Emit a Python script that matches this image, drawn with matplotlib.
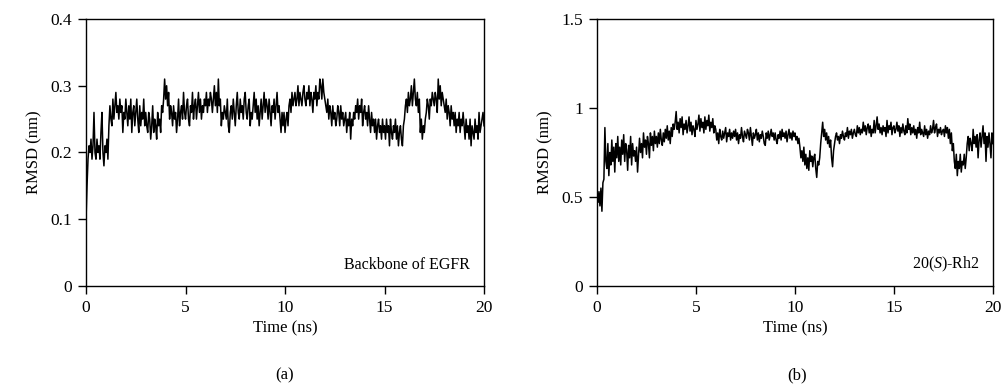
import numpy as np
import matplotlib
matplotlib.use("Agg")
import matplotlib.pyplot as plt

plt.rcParams["font.family"] = ["Liberation Serif", "DejaVu Serif"]
plt.rcParams["mathtext.fontset"] = "custom"
plt.rcParams["mathtext.rm"] = "Liberation Serif"
plt.rcParams["mathtext.it"] = "Liberation Serif:italic"

# time axis, 0.05 ns steps (one row = 1 ns)
time_ns = np.round(np.arange(0, 401) * 0.05, 2)

# RMSD of EGFR backbone (nm)
rmsd_egfr = [
    0.10, 0.15, 0.19, 0.21, 0.20, 0.22, 0.19, 0.21, 0.26, 0.20, 0.19, 0.22, 0.20, 0.21, 0.19, 0.23, 0.26, 0.20, 0.18, 0.21,
    0.20, 0.22, 0.19, 0.24, 0.27, 0.25, 0.24, 0.28, 0.25, 0.27, 0.29, 0.26, 0.27, 0.25, 0.28, 0.26, 0.27, 0.23, 0.26, 0.25,
    0.28, 0.26, 0.24, 0.27, 0.25, 0.28, 0.23, 0.26, 0.27, 0.24, 0.26, 0.28, 0.25, 0.23, 0.27, 0.24, 0.26, 0.25, 0.28, 0.24,
    0.26, 0.24, 0.23, 0.26, 0.25, 0.22, 0.24, 0.27, 0.23, 0.25, 0.24, 0.22, 0.26, 0.24, 0.25, 0.23, 0.27, 0.26, 0.28, 0.31,
    0.28, 0.30, 0.27, 0.29, 0.25, 0.27, 0.26, 0.24, 0.27, 0.25, 0.26, 0.23, 0.25, 0.28, 0.24, 0.26, 0.27, 0.25, 0.29, 0.26,
    0.25, 0.27, 0.28, 0.25, 0.24, 0.27, 0.26, 0.29, 0.25, 0.27, 0.28, 0.25, 0.27, 0.29, 0.26, 0.28, 0.25, 0.27, 0.26, 0.28,
    0.27, 0.29, 0.26, 0.28, 0.27, 0.29, 0.28, 0.26, 0.28, 0.30, 0.27, 0.29, 0.26, 0.31, 0.27, 0.28, 0.24, 0.26, 0.25, 0.27,
    0.26, 0.25, 0.28, 0.24, 0.23, 0.26, 0.27, 0.25, 0.28, 0.26, 0.24, 0.27, 0.29, 0.26, 0.25, 0.28, 0.26, 0.27, 0.25, 0.28,
    0.29, 0.26, 0.25, 0.27, 0.28, 0.24, 0.26, 0.25, 0.27, 0.29, 0.26, 0.28, 0.25, 0.27, 0.24, 0.26, 0.28, 0.25, 0.27, 0.29,
    0.26, 0.28, 0.27, 0.25, 0.28, 0.26, 0.24, 0.27, 0.26, 0.28, 0.25, 0.27, 0.29, 0.26, 0.27, 0.25, 0.23, 0.26, 0.24, 0.26,
    0.23, 0.25, 0.26, 0.24, 0.27, 0.28, 0.26, 0.29, 0.27, 0.28, 0.29, 0.27, 0.28, 0.30, 0.27, 0.29, 0.28, 0.27, 0.29, 0.30,
    0.28, 0.27, 0.29, 0.28, 0.30, 0.27, 0.29, 0.28, 0.26, 0.29, 0.28, 0.30, 0.27, 0.29, 0.28, 0.31, 0.30, 0.28, 0.31, 0.29,
    0.28, 0.27, 0.26, 0.28, 0.25, 0.27, 0.26, 0.24, 0.27, 0.25, 0.26, 0.24, 0.25, 0.27, 0.26, 0.24, 0.27, 0.25, 0.26, 0.24,
    0.25, 0.26, 0.23, 0.25, 0.24, 0.26, 0.22, 0.25, 0.24, 0.26, 0.25, 0.27, 0.26, 0.28, 0.25, 0.27, 0.26, 0.28, 0.24, 0.26,
    0.27, 0.25, 0.26, 0.24, 0.27, 0.25, 0.23, 0.26, 0.24, 0.25, 0.23, 0.25, 0.22, 0.24, 0.25, 0.23, 0.24, 0.22, 0.25, 0.23,
    0.24, 0.22, 0.25, 0.23, 0.24, 0.21, 0.25, 0.23, 0.22, 0.24, 0.23, 0.25, 0.22, 0.24, 0.21, 0.23, 0.24, 0.22, 0.21, 0.24,
    0.25, 0.27, 0.28, 0.26, 0.29, 0.27, 0.28, 0.30, 0.27, 0.29, 0.31, 0.28, 0.27, 0.29, 0.26, 0.28, 0.23, 0.25, 0.22, 0.24,
    0.23, 0.25, 0.26, 0.28, 0.27, 0.25, 0.28, 0.27, 0.29, 0.28, 0.27, 0.29, 0.28, 0.26, 0.31, 0.28, 0.30, 0.27, 0.29, 0.28,
    0.27, 0.26, 0.28, 0.25, 0.27, 0.26, 0.24, 0.27, 0.25, 0.26, 0.24, 0.26, 0.23, 0.25, 0.24, 0.26, 0.23, 0.25, 0.24, 0.26,
    0.24, 0.22, 0.25, 0.23, 0.24, 0.22, 0.25, 0.21, 0.24, 0.23, 0.22, 0.25, 0.23, 0.24, 0.22, 0.26, 0.23, 0.24, 0.25, 0.26,
    0.24,
]

# RMSD of 20(S)-Rh2 (nm)
rmsd_rh2 = [
    0.50, 0.47, 0.53, 0.45, 0.55, 0.42, 0.58, 0.60, 0.89, 0.70, 0.66, 0.80, 0.62, 0.75, 0.68, 0.82, 0.70, 0.78, 0.64, 0.80,
    0.72, 0.84, 0.70, 0.78, 0.68, 0.82, 0.74, 0.85, 0.70, 0.80, 0.76, 0.65, 0.79, 0.72, 0.84, 0.68, 0.80, 0.73, 0.76, 0.70,
    0.78, 0.64, 0.74, 0.83, 0.75, 0.80, 0.72, 0.86, 0.78, 0.82, 0.74, 0.84, 0.80, 0.72, 0.86, 0.79, 0.84, 0.76, 0.87, 0.80,
    0.84, 0.78, 0.86, 0.80, 0.88, 0.82, 0.79, 0.86, 0.81, 0.88, 0.83, 0.90, 0.82, 0.87, 0.80, 0.89, 0.84, 0.91, 0.88, 0.92,
    0.98, 0.88, 0.92, 0.86, 0.94, 0.89, 0.95, 0.85, 0.91, 0.88, 0.93, 0.86, 0.90, 0.95, 0.87, 0.92, 0.85, 0.90, 0.88, 0.84,
    0.93, 0.88, 0.91, 0.96, 0.87, 0.94, 0.89, 0.92, 0.86, 0.95, 0.88, 0.93, 0.90, 0.96, 0.87, 0.92, 0.89, 0.94, 0.86, 0.90,
    0.88, 0.82, 0.86, 0.80, 0.88, 0.84, 0.82, 0.87, 0.83, 0.86, 0.89, 0.81, 0.86, 0.84, 0.88, 0.82, 0.86, 0.83, 0.87, 0.84,
    0.88, 0.82, 0.86, 0.80, 0.85, 0.83, 0.89, 0.84, 0.81, 0.87, 0.85, 0.83, 0.88, 0.86, 0.82, 0.89, 0.84, 0.79, 0.86, 0.83,
    0.85, 0.88, 0.82, 0.86, 0.81, 0.85, 0.83, 0.87, 0.84, 0.80, 0.79, 0.86, 0.83, 0.87, 0.82, 0.85, 0.88, 0.84, 0.86, 0.82,
    0.86, 0.82, 0.80, 0.85, 0.83, 0.87, 0.82, 0.88, 0.84, 0.86, 0.83, 0.87, 0.81, 0.85, 0.88, 0.83, 0.86, 0.82, 0.87, 0.84,
    0.86, 0.82, 0.84, 0.80, 0.83, 0.78, 0.72, 0.76, 0.70, 0.78, 0.68, 0.74, 0.66, 0.72, 0.65, 0.76, 0.70, 0.73, 0.67, 0.72,
    0.74, 0.66, 0.61, 0.70, 0.68, 0.72, 0.80, 0.86, 0.92, 0.84, 0.88, 0.82, 0.86, 0.80, 0.84, 0.78, 0.82, 0.72, 0.67, 0.76,
    0.80, 0.84, 0.86, 0.82, 0.84, 0.80, 0.85, 0.83, 0.87, 0.84, 0.82, 0.86, 0.84, 0.89, 0.83, 0.87, 0.85, 0.88, 0.83, 0.86,
    0.88, 0.85, 0.84, 0.90, 0.86, 0.89, 0.85, 0.88, 0.86, 0.92, 0.87, 0.90, 0.85, 0.89, 0.91, 0.86, 0.90, 0.84, 0.88, 0.86,
    0.93, 0.86, 0.90, 0.95, 0.88, 0.91, 0.86, 0.89, 0.85, 0.90, 0.87, 0.89, 0.84, 0.93, 0.86, 0.90, 0.88, 0.92, 0.85, 0.89,
    0.90, 0.86, 0.88, 0.92, 0.87, 0.90, 0.84, 0.89, 0.86, 0.91, 0.87, 0.85, 0.90, 0.86, 0.94, 0.88, 0.91, 0.85, 0.89, 0.86,
    0.90, 0.85, 0.88, 0.83, 0.89, 0.86, 0.92, 0.85, 0.88, 0.86, 0.84, 0.90, 0.85, 0.88, 0.83, 0.87, 0.85, 0.90, 0.86, 0.88,
    0.93, 0.86, 0.89, 0.91, 0.84, 0.88, 0.86, 0.89, 0.85, 0.87, 0.88, 0.84, 0.90, 0.86, 0.89, 0.83, 0.88, 0.80, 0.86, 0.76,
    0.80, 0.70, 0.66, 0.74, 0.62, 0.70, 0.66, 0.74, 0.64, 0.70, 0.68, 0.74, 0.66, 0.72, 0.80, 0.84, 0.76, 0.83, 0.80, 0.76,
    0.88, 0.80, 0.84, 0.78, 0.85, 0.72, 0.82, 0.86, 0.78, 0.84, 0.90, 0.80, 0.86, 0.70, 0.84, 0.78, 0.86, 0.80, 0.72, 0.86,
    0.80,
]

x_ticks = [0, 5, 10, 15, 20]
y_ticks_a = [0, 0.1, 0.2, 0.3, 0.4]
y_labels_a = ["0", "0.1", "0.2", "0.3", "0.4"]
y_ticks_b = [0, 0.5, 1, 1.5]
y_labels_b = ["0", "0.5", "1", "1.5"]

fig = plt.figure(figsize=(10.05, 3.89), dpi=100)
ax1 = fig.add_axes([0.0856, 0.2648, 0.3960, 0.6864])
ax2 = fig.add_axes([0.5940, 0.2648, 0.3940, 0.6864])


def style(ax, yticks, ylabels, ylim):
    ax.set_xlim(0, 20)
    ax.set_ylim(*ylim)
    ax.set_xticks(x_ticks)
    ax.set_yticks(yticks)
    ax.set_yticklabels(ylabels)
    ax.tick_params(direction="out", length=6, width=1, labelsize=12.5, pad=4)
    for s in ax.spines.values():
        s.set_linewidth(1)
    ax.set_xlabel("Time (ns)", fontsize=12, labelpad=3)
    ax.set_ylabel("RMSD (nm)", fontsize=12, labelpad=6)


ax1.plot(time_ns, rmsd_egfr, color="black", lw=1.1)
style(ax1, y_ticks_a, y_labels_a, (0, 0.4))
ax1.text(0.965, 0.08, "Backbone of EGFR", transform=ax1.transAxes,
         ha="right", va="center", fontsize=11.5)

ax2.plot(time_ns, rmsd_rh2, color="black", lw=1.1)
style(ax2, y_ticks_b, y_labels_b, (0, 1.5))
ax2.text(0.967, 0.08, r"20($\mathit{S}$)-Rh2", transform=ax2.transAxes,
         ha="right", va="center", fontsize=11.5)

fig.text(0.2836, 0.036, "(a)", ha="center", va="center", fontsize=12)
fig.text(0.7930, 0.036, "(b)", ha="center", va="center", fontsize=12)

fig.savefig("out.png", dpi=100)
